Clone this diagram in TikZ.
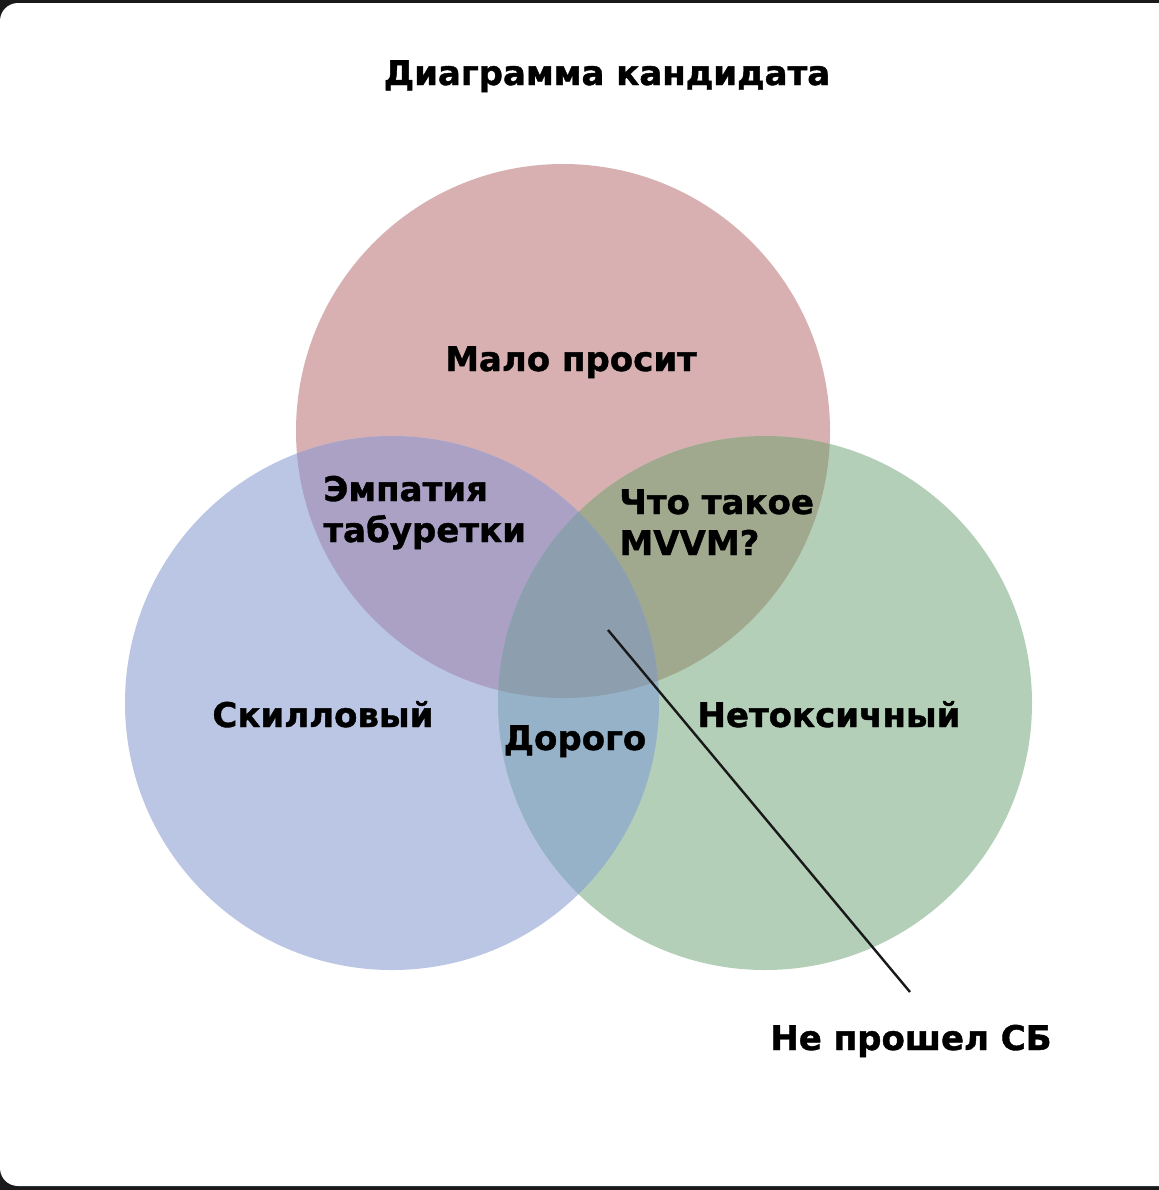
\documentclass[tikz,border=0pt]{standalone}
\usepackage{fontspec}
\setmainfont{DejaVu Sans}[BoldFeatures={FakeBold=1.2}]
\usepackage{tikz}

\definecolor{malo}{HTML}{D8B0B1}
\definecolor{skill}{HTML}{BBC6E5}
\definecolor{netox}{HTML}{B4CFB7}
\definecolor{empat}{HTML}{AAA1C5}
\definecolor{mvvm}{HTML}{A0A98D}
\definecolor{dorogo}{HTML}{96B2C8}
\definecolor{sbcol}{HTML}{8D9EAF}
\definecolor{frame}{HTML}{1A1A1A}

\newcommand{\vennR}{133.5pt}

\begin{document}
\begin{tikzpicture}[x=0.5pt,y=-0.5pt,
  every node/.style={font=\bfseries\fontsize{17}{20.5}\selectfont,inner sep=0pt},
  lbl/.style={anchor=base},
  lbl2/.style={anchor=base west,align=left}]
  %frame
  \useasboundingbox (0,0) rectangle (1159,1190);
  \fill[frame] (0,0) rectangle (1159,1190);
  \begin{scope}
    \clip (0,0) rectangle (1159,1190);
    \fill[white,rounded corners=9pt] (0,3) rectangle (1200,1186);
  \end{scope}

  %circles
  \coordinate (ctop) at (563,431);
  \coordinate (cleft) at (392,703);
  \coordinate (cright) at (765,703);
  \fill[malo] (ctop) circle[radius=\vennR];
  \fill[skill] (cleft) circle[radius=\vennR];
  \fill[netox] (cright) circle[radius=\vennR];
  %overlaps
  \begin{scope}
    \clip (ctop) circle[radius=\vennR];
    \fill[empat] (cleft) circle[radius=\vennR];
    \fill[mvvm] (cright) circle[radius=\vennR];
  \end{scope}
  \begin{scope}
    \clip (cleft) circle[radius=\vennR];
    \fill[dorogo] (cright) circle[radius=\vennR];
    \clip (cright) circle[radius=\vennR];
    \fill[sbcol] (ctop) circle[radius=\vennR];
  \end{scope}

  %labels
  \node[lbl] (title) at (607,85) {Диаграмма кандидата};
  \node[lbl] (malo) at (571,371) {Мало просит};
  \node[lbl2] (empat) at (323,542) {Эмпатия\\табуретки};
  \node[lbl2] (mvvm) at (619,555) {Что такое\\MVVM?};
  \node[lbl] (skill) at (323,727) {Скилловый};
  \node[lbl] (netox) at (829,727) {Нетоксичный};
  \node[lbl] (dorogo) at (575,750) {Дорого};
  \node[lbl] (sb) at (911,1050) {Не прошел СБ};

  %pointer
  \coordinate (sbtip) at (608,630);
  \coordinate (sbend) at (910,992);
  \draw[line width=1.2pt,black!90] (sbtip) -- (sbend);
\end{tikzpicture}
\end{document}
